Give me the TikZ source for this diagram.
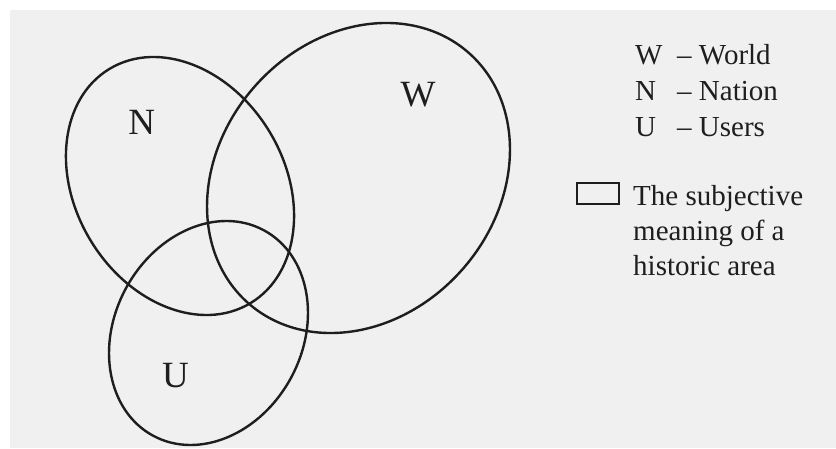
\documentclass[tikz,border=0pt]{standalone}
\usepackage{fontspec}
\setmainfont{Liberation Serif}
\usepackage{tikz}
\usepackage{xcolor}
\definecolor{paper}{HTML}{F0F0F0}
\definecolor{inkc}{HTML}{1E1E1E}

\begin{document}
\begin{tikzpicture}[x=1pt,y=1pt,
  venn/.style={draw=inkc,line width=2.4pt},
  setlabel/.style={inner sep=0pt,text=inkc,font=\fontsize{37}{44}\selectfont},
  legend/.style={inner sep=0pt,text=inkc,font=\fontsize{29}{35}\selectfont}]
\fill[white] (0,0) rectangle (836,448);
\fill[paper] (10,0) rectangle (836,438);
\useasboundingbox (0,0) rectangle (836,448);
% the three sets
\draw[venn,rotate around={-59:(180,262)}] (180,262) ellipse [x radius=136.7,y radius=104.7];
\draw[venn,rotate around={48.6:(358.5,270)}] (358.5,270) ellipse [x radius=166.8,y radius=138.4];
\draw[venn,rotate around={61.7:(208.5,115)}] (208.5,115) ellipse [x radius=116.7,y radius=93.9];
\node[setlabel] (n) at (141.7,325.5) {N};
\node[setlabel] (w) at (418,353.5) {W};
\node[setlabel] (u) at (175.5,72) {U};
% legend
\node[legend,anchor=base west] (kw) at (635,383) {W};
\node[legend,anchor=base west] (kwt) at (677,383) {– World};
\node[legend,anchor=base west] (kn) at (635,347) {N};
\node[legend,anchor=base west] (knt) at (677,347) {– Nation};
\node[legend,anchor=base west] (ku) at (635,311) {U};
\node[legend,anchor=base west] (kut) at (677,311) {– Users};
\node[draw=inkc,line width=2.2pt,minimum width=42pt,minimum height=21pt,inner sep=0pt] (key) at (598,254.5) {};
% base of a multi-line node is its last line
\node[legend,anchor=base west,align=left] (meaning) at (633,173)
  {The subjective\\meaning of a\\historic area};
\end{tikzpicture}
\end{document}
